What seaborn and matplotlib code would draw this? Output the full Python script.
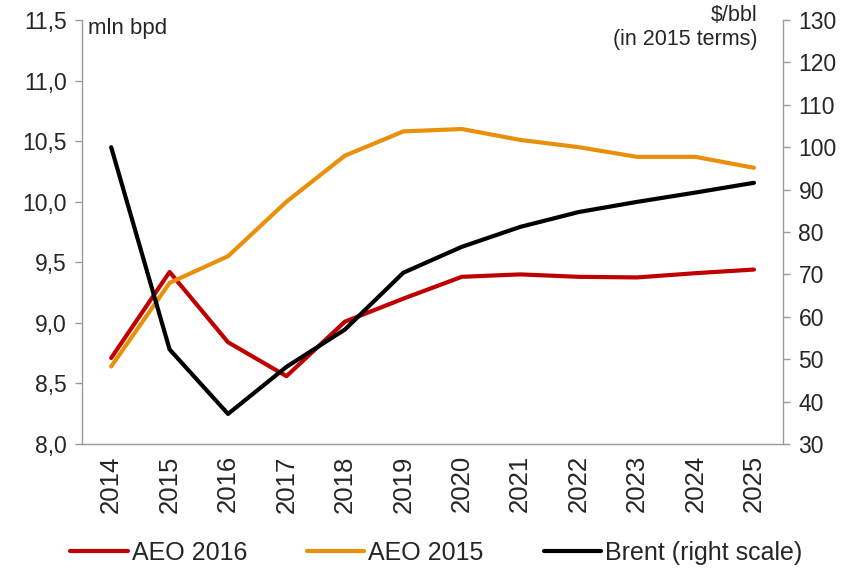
import pandas as pd
import matplotlib.pyplot as plt
import seaborn as sns

# Data
years = [2014, 2015, 2016, 2017, 2018, 2019, 2020, 2021, 2022, 2023, 2024, 2025]
aeo_2016 = [8.71, 9.42, 8.84, 8.56, 9.01, 9.20, 9.38, 9.40, 9.38, 9.375, 9.41, 9.44]
aeo_2015 = [8.64, 9.33, 9.55, 10.00, 10.38, 10.58, 10.60, 10.51, 10.45, 10.37, 10.37, 10.28]
brent = [100.0, 52.3, 37.1, 48.2, 57.0, 70.4, 76.5, 81.2, 84.7, 87.1, 89.3, 91.6]

RED = "#c00000"
ORANGE = "#e8900a"
BLACK = "#000000"
GREY = "#9a9a9a"

sns.set_style("white")
plt.rcParams['font.family'] = ['Liberation Sans', 'DejaVu Sans']

df = pd.DataFrame({"year": years, "AEO 2016": aeo_2016,
                   "AEO 2015": aeo_2015, "Brent": brent})

fig = plt.figure(figsize=(8.52, 5.70), dpi=100)
ax = fig.add_axes([0.0962, 0.221, 0.823, 0.744])
ax2 = ax.twinx()

sns.lineplot(data=df, x="year", y="AEO 2016", ax=ax, color=RED, lw=3, label="AEO 2016", legend=False)
sns.lineplot(data=df, x="year", y="AEO 2015", ax=ax, color=ORANGE, lw=3, label="AEO 2015", legend=False)
sns.lineplot(data=df, x="year", y="Brent", ax=ax2, color=BLACK, lw=3, label="Brent (right scale)", legend=False)

ax.set_xlim(years[0] - 0.5, years[-1] + 0.5)
ax.set_ylim(8.0, 11.5)
ax2.set_ylim(30, 130)
ax.set_yticks([8.0 + 0.5 * i for i in range(8)])
ax.set_yticklabels([f"{8.0 + 0.5 * i:.1f}".replace(".", ",") for i in range(8)])
ax2.set_yticks(range(30, 131, 10))

# year labels on majors, tick marks between categories on minors
ax.set_xticks(years)
ax.set_xticklabels([str(y) for y in years], rotation=90)
ax.set_xticks([y - 0.5 for y in years] + [years[-1] + 0.5], minor=True)
ax.tick_params(axis="x", which="major", length=0, pad=8, labelsize=18.5)
ax.tick_params(axis="x", which="minor", length=5, color=GREY, width=1, direction="out")

ax.tick_params(axis="y", length=5, color=GREY, width=1, direction="out", labelsize=16.5, pad=6)
ax2.tick_params(axis="y", length=5, color=GREY, width=1, direction="out", labelsize=16.5, pad=6)

for a in (ax, ax2):
    a.set_xlabel("")
    a.set_ylabel("")
    a.spines["top"].set_visible(False)
    for side in ("left", "right", "bottom"):
        a.spines[side].set_color(GREY)
        a.spines[side].set_linewidth(1)
ax.spines["right"].set_visible(False)
ax2.spines["left"].set_visible(False)
ax2.spines["bottom"].set_visible(False)

ax.text(0.009, 1.005, "mln bpd", transform=ax.transAxes, ha="left", va="top", fontsize=16)
ax2.text(0.963, 1.035, "$/bbl\n(in 2015 terms)", transform=ax2.transAxes, ha="right", va="top",
         fontsize=15.5, linespacing=1.15)

handles = ax.get_lines()[:2] + ax2.get_lines()[:1]
labels = ["AEO 2016", "AEO 2015", "Brent (right scale)"]
fig.legend(handles, labels, loc="lower center", bbox_to_anchor=(0.512, -0.031), ncol=3,
           frameon=False, fontsize=18, handlelength=2.3, handletextpad=0.15, columnspacing=2.4)

fig.savefig("out.png", dpi=100)
